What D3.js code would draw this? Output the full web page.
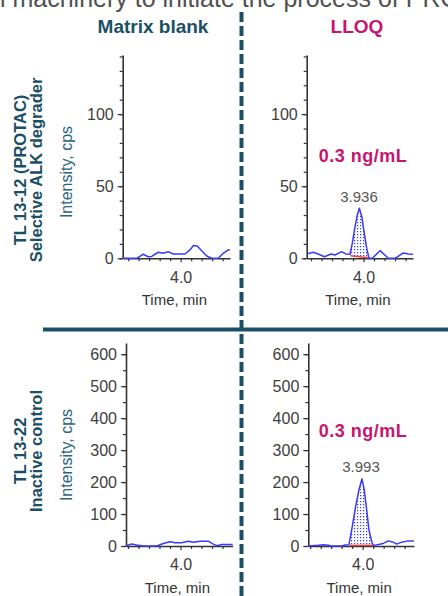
<!DOCTYPE html>
<html>
<head>
<meta charset="utf-8">
<script src="https://cdn.jsdelivr.net/npm/d3@7"></script>
<style>
  body { margin: 0; background: #fff; }
  svg { display: block; font-family: "Liberation Sans", Arial, sans-serif; }
</style>
</head>
<body>
<svg id="root"></svg>
<script>
// chromatogram traces (time in min, intensity in cps)
const tlTime = [3.448, 3.581, 3.644, 3.691, 3.724, 3.787, 3.829, 3.882, 3.930, 4.041, 4.089, 4.120, 4.158, 4.200, 4.248, 4.295, 4.358, 4.406, 4.453, 4.47];
const tlCps  = [0, 0, 2.8, 1.1, 1.3, 4.2, 3.5, 4.6, 3, 3, 5.8, 8.8, 8.5, 5.3, 1.6, 0, 0, 3.5, 5.8, 6];

const trTime = [3.46, 3.522, 3.570, 3.627, 3.690, 3.729, 3.792, 3.830, 3.871, 3.893, 3.919, 3.941, 3.960, 3.983, 4.008, 4.030, 4.052, 4.084, 4.157, 4.236, 4.300, 4.379, 4.427, 4.471];
const trCps  = [3, 4.2, 3, 1.1, 3, 2.3, 4.6, 3, 2.8, 10.4, 22, 30, 34.7, 29, 17, 7, 0, 0, 5.3, 0, 0, 3.7, 3, 2.8];
const trBaseTime = [3.875, 4.040];
const trBaseCps  = [1.8, 0.4];

const blTime = [3.481, 3.535, 3.583, 3.646, 3.773, 3.836, 3.900, 3.948, 4.011, 4.074, 4.122, 4.186, 4.265, 4.312, 4.345, 4.392, 4.497];
const blCps  = [1, 6, 3, 0, 0, 8, 13, 10, 10, 15, 12, 15, 15, 6, 1, 5, 5];

const brTime = [3.482, 3.577, 3.625, 3.672, 3.705, 3.800, 3.831, 3.870, 3.901, 3.933, 3.965, 3.993, 4.015, 4.038, 4.060, 4.091, 4.110, 4.196, 4.244, 4.291, 4.324, 4.371, 4.434, 4.489];
const brCps  = [0, 2, 4, 2, 0, 0, 3, 4, 61, 124, 176, 210, 176, 113, 50, 8, 2, 8, 16, 12, 6, 12, 16, 16];
const brBaseTime = [3.879, 4.101];
const brBaseCps  = [2, 2];

// tick values and labels
const topYTicks = [0, 50, 100];
const topYMinor = d3.range(0, 141, 10);
const bottomYTicks = [0, 100, 200, 300, 400, 500, 600];
const bottomYMinor = d3.range(0, 601, 50);
const xTicks = [4.0];
const xMinor = [3.5, 3.6, 3.7, 3.8, 3.9, 4.1, 4.2, 4.3, 4.4];

const columnTitles = ["Matrix blank", "LLOQ"];
const rowTitles = [["TL 13-12 (PROTAC)", "Selective ALK degrader"], ["TL 13-22", "Inactive control"]];
const peakLabels = ["3.936", "3.993"];
const concLabel = "0.3 ng/mL";

const teal = "#1a4f66", magenta = "#c8146e", blue = "#3a3aff";

const svg = d3.select("#root").attr("width", 448).attr("height", 596);

// dotted fill for the integrated peak
svg.append("defs").append("pattern")
  .attr("id", "dots").attr("width", 3).attr("height", 3)
  .attr("patternUnits", "userSpaceOnUse")
  .call(p => {
    p.append("rect").attr("width", 3).attr("height", 3).attr("fill", "#fff");
    p.append("rect").attr("width", 1.2).attr("height", 1.2).attr("fill", blue);
  });

// clipped sentence from the slide above
svg.append("text")
  .attr("x", -32).attr("y", 7)
  .attr("font-size", 25).attr("fill", "#505050")
  .text("cell machinery to initiate the process of PROTAC");

// column titles
svg.append("text").attr("x", 153).attr("y", 33).attr("text-anchor", "middle")
  .attr("font-size", 19).attr("font-weight", "bold").attr("fill", teal).text(columnTitles[0]);
svg.append("text").attr("x", 357).attr("y", 33).attr("text-anchor", "middle")
  .attr("font-size", 19).attr("font-weight", "bold").attr("fill", magenta).text(columnTitles[1]);

// row titles
[170, 451].forEach((cy, i) => {
  svg.append("text").attr("transform", `translate(26,${cy}) rotate(-90)`)
    .attr("text-anchor", "middle").attr("font-size", 16.5).attr("font-weight", "bold")
    .attr("fill", teal).text(rowTitles[i][0]);
  svg.append("text").attr("transform", `translate(42,${cy}) rotate(-90)`)
    .attr("text-anchor", "middle").attr("font-size", 16.5).attr("font-weight", "bold")
    .attr("fill", teal).text(rowTitles[i][1]);
});

function interp(times, vals, t) {
  return d3.scaleLinear(times, vals)(t);
}

function drawPanel(p) {
  const x = d3.scaleLinear(p.xDomain, [p.left, p.right]);
  const y = d3.scaleLinear(p.yDomain, [p.bottom, p.top]);
  const g = svg.append("g");
  const pts = p.time.map((t, i) => [t, p.cps[i]]);

  // integrated area between trace and baseline
  if (p.baseTime) {
    const b0 = p.baseTime[0], b1 = p.baseTime[1];
    const poly = [[b0, p.baseCps[0]], [b0, interp(p.time, p.cps, b0)]]
      .concat(pts.filter(d => d[0] > b0 && d[0] < b1))
      .concat([[b1, interp(p.time, p.cps, b1)], [b1, p.baseCps[1]]]);
    g.append("path")
      .attr("d", "M" + poly.map(d => x(d[0]) + "," + y(d[1])).join("L") + "Z")
      .attr("fill", "url(#dots)");
  }

  // axes
  g.append("g").attr("transform", `translate(${p.left},0)`)
    .call(d3.axisLeft(y).tickValues(p.yTicks).tickSize(5).tickPadding(4).tickSizeOuter(0));
  g.append("g").attr("transform", `translate(${p.left},0)`)
    .call(d3.axisLeft(y).tickValues(p.yMinor).tickSize(3).tickFormat(""))
    .call(a => a.select(".domain").remove());
  g.append("g").attr("transform", `translate(0,${p.bottom})`)
    .call(d3.axisBottom(x).tickValues(xTicks).tickSize(4).tickPadding(9).tickSizeOuter(0).tickFormat(d3.format(".1f")));
  g.append("g").attr("transform", `translate(0,${p.bottom})`)
    .call(d3.axisBottom(x).tickValues(xMinor).tickSize(3).tickFormat(""))
    .call(a => a.select(".domain").remove());

  g.selectAll(".domain").attr("stroke", "#333").attr("stroke-width", 1.6);
  g.selectAll(".tick line").attr("stroke", "#333").attr("stroke-width", 1.2);
  g.selectAll(".tick text").attr("font-size", 16).attr("fill", "#3d3d3d")
    .attr("font-family", "Liberation Sans, Arial, sans-serif");

  // trace
  const line = d3.line().x(d => x(d[0])).y(d => y(d[1]));
  g.append("path").datum(pts)
    .attr("fill", "none").attr("stroke", blue).attr("stroke-width", 1.5)
    .attr("stroke-linejoin", "round").attr("d", line);

  if (p.baseTime) {
    g.append("path")
      .datum([[p.baseTime[0], p.baseCps[0]], [p.baseTime[1], p.baseCps[1]]])
      .attr("fill", "none").attr("stroke", "#f04040").attr("stroke-width", 1.4).attr("d", line);
    g.append("text").attr("x", p.peakX).attr("y", p.peakY).attr("text-anchor", "middle")
      .attr("font-size", 15).attr("fill", "#555").text(p.peakLabel);
    g.append("text").attr("x", 363).attr("y", p.concY).attr("text-anchor", "middle")
      .attr("font-size", 18).attr("font-weight", "bold").attr("letter-spacing", 0.5)
      .attr("fill", magenta).text(concLabel);
  }

  // axis titles
  g.append("text").attr("x", (p.left + p.right) / 2 - 2).attr("y", p.bottom + 46.5)
    .attr("text-anchor", "middle").attr("font-size", 15).attr("fill", "#333").text("Time, min");
  if (p.yLabelY) {
    g.append("text").attr("transform", `translate(72,${p.yLabelY}) rotate(-90)`)
      .attr("text-anchor", "middle").attr("font-size", 16).attr("fill", "#2a6480")
      .text("Intensity, cps");
  }
}

drawPanel({ left: 122.7, right: 230, top: 55, bottom: 258.3, xDomain: [3.448, 4.47], yDomain: [0, 141],
  time: tlTime, cps: tlCps, yTicks: topYTicks, yMinor: topYMinor, yLabelY: 172 });
drawPanel({ left: 306.7, right: 413, top: 55, bottom: 258.3, xDomain: [3.459, 4.471], yDomain: [0, 141],
  time: trTime, cps: trCps, yTicks: topYTicks, yMinor: topYMinor,
  baseTime: trBaseTime, baseCps: trBaseCps, peakLabel: peakLabels[0], peakX: 359, peakY: 201.7, concY: 161.7 });
drawPanel({ left: 126, right: 232.7, top: 343, bottom: 546, xDomain: [3.481, 4.497], yDomain: [0, 635],
  time: blTime, cps: blCps, yTicks: bottomYTicks, yMinor: bottomYMinor, yLabelY: 455 });
drawPanel({ left: 308.3, right: 414, top: 343, bottom: 546, xDomain: [3.482, 4.489], yDomain: [0, 635],
  time: brTime, cps: brCps, yTicks: bottomYTicks, yMinor: bottomYMinor,
  baseTime: brBaseTime, baseCps: brBaseCps, peakLabel: peakLabels[1], peakX: 361, peakY: 471.7, concY: 437.3 });

// divider lines
svg.append("line").attr("x1", 43).attr("x2", 448).attr("y1", 329.5).attr("y2", 329.5)
  .attr("stroke", teal).attr("stroke-width", 4);
svg.append("line").attr("x1", 241.5).attr("x2", 241.5).attr("y1", 12).attr("y2", 596)
  .attr("stroke", teal).attr("stroke-width", 4).attr("stroke-dasharray", "10,4");
</script>
</body>
</html>
